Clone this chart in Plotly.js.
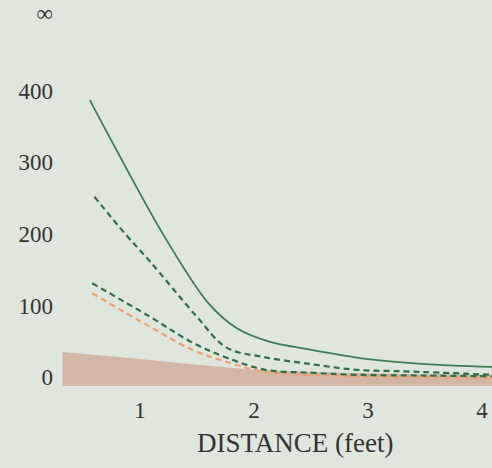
<!DOCTYPE html>
<html>
<head>
<meta charset="utf-8">
<script src="https://cdn.plot.ly/plotly-3.0.1.min.js"></script>
<style>html,body{margin:0;padding:0;background:#dfe6dc;}#chart{width:492px;height:468px;}</style>
</head>
<body>
<div id="chart"></div>
<script>
// Data
const areaX = [0.32, 0.6, 1.0, 1.5, 2.0, 2.5, 3.0, 3.5, 4.09];
const areaY = [35, 31, 25, 17, 10, 7, 5, 4, 3];
const areaBase = [-13, -13, -13, -13, -13, -13, -13, -13, -13];

const solidX = [0.56, 1.2, 1.59, 1.85, 2.14, 2.5, 3.0, 3.5, 4.09];
const solidY = [387, 200, 105, 68, 49, 38, 25, 18, 14];

const dashUpX = [0.6, 0.87, 1.09, 1.5, 1.76, 2.08, 2.5, 2.9, 3.3, 3.63, 4.09];
const dashUpY = [252, 200, 161, 84, 41, 28, 18, 10, 8, 6, 3];

const dashLowX = [0.58, 1.09, 1.46, 1.76, 2.1, 2.5, 2.9, 3.5, 4.09];
const dashLowY = [131, 84, 48, 27, 10, 6, 3, 2, 1];

const orangeX = [0.58, 1.09, 1.46, 1.76, 2.1, 2.5, 3.0, 3.5, 4.09];
const orangeY = [117, 70, 38, 21, 7, 3, 1, 0, -1];

const yTickVals = [0, 100, 200, 300, 400, 509];
const yTickText = ['0', '100', '200', '300', '400', '∞'];
const xTickVals = [1, 2, 3, 4];
const xTitle = 'DISTANCE (feet)';

const traces = [
  {x: areaX, y: areaBase, mode: 'lines', line: {width: 0}, hoverinfo: 'skip', showlegend: false},
  {x: areaX, y: areaY, mode: 'lines', fill: 'tonexty', fillcolor: 'rgb(210,182,166)', line: {width: 0, color: 'rgb(210,182,166)'}, showlegend: false},
  {x: orangeX, y: orangeY, mode: 'lines', line: {color: 'rgb(240,160,110)', width: 2.2, dash: '6px,4px', shape: 'spline'}, showlegend: false},
  {x: dashLowX, y: dashLowY, mode: 'lines', line: {color: 'rgb(48,110,75)', width: 2.2, dash: '6px,4px', shape: 'spline'}, showlegend: false},
  {x: dashUpX, y: dashUpY, mode: 'lines', line: {color: 'rgb(48,110,75)', width: 2.2, dash: '6px,4px', shape: 'spline'}, showlegend: false},
  {x: solidX, y: solidY, mode: 'lines', line: {color: 'rgb(60,125,85)', width: 1.8, shape: 'spline', smoothing: 0.8}, showlegend: false}
];

const font = {family: 'Liberation Serif, Times New Roman, serif', color: '#333'};

const layout = {
  width: 492, height: 468,
  margin: {l: 60, r: 0, t: 5, b: 82},
  paper_bgcolor: '#dfe6dc',
  plot_bgcolor: '#dfe6dc',
  font: font,
  showlegend: false,
  xaxis: {
    range: [0.298, 4.088], tickvals: xTickVals, ticks: '', showgrid: false, zeroline: false, showline: false,
    tickfont: {family: font.family, size: 23, color: '#333'}, ticklabelstandoff: 8
  },
  yaxis: {
    range: [-12.6, 520], tickvals: yTickVals, ticktext: yTickText, ticks: '', showgrid: false, zeroline: false, showline: false,
    tickfont: {family: font.family, size: 23, color: '#333'}, ticklabelstandoff: 6
  },
  annotations: [{
    text: xTitle, xref: 'paper', yref: 'paper', x: 0.546, y: 0, yshift: -57, showarrow: false,
    xanchor: 'center', yanchor: 'middle', font: {family: font.family, size: 27, color: '#333'}
  }]
};

Plotly.newPlot('chart', traces, layout, {staticPlot: true, displayModeBar: false});
</script>
</body>
</html>
